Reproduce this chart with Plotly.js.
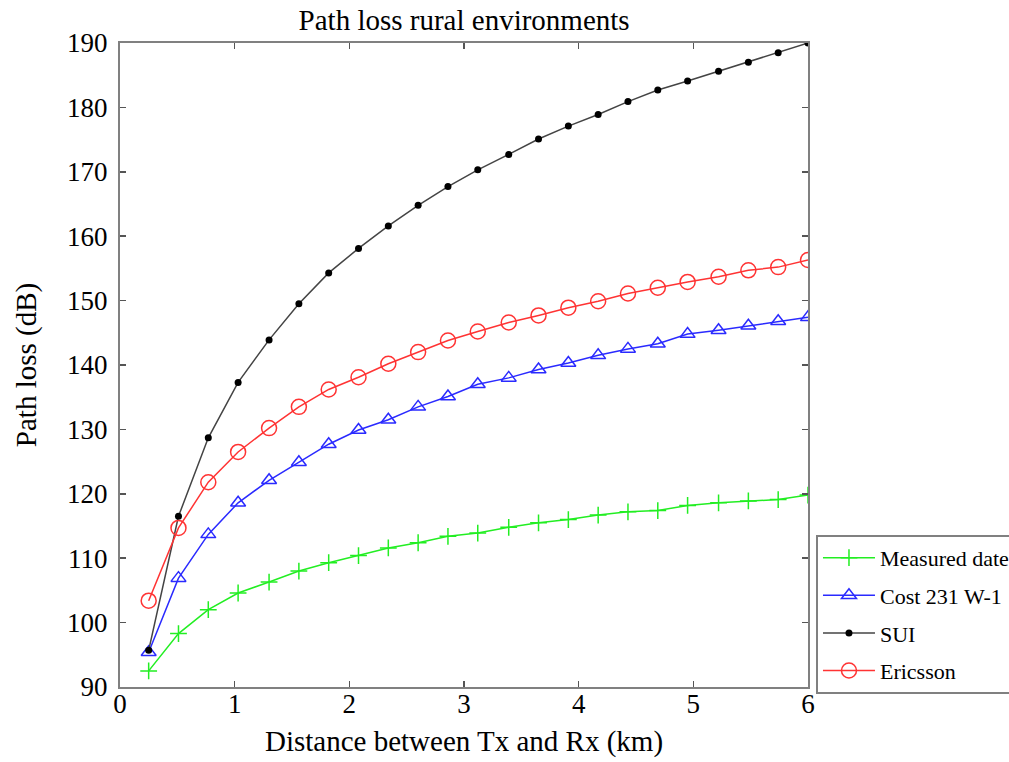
<!DOCTYPE html>
<html>
<head>
<meta charset="utf-8">
<script src="https://cdn.plot.ly/plotly-3.0.1.min.js"></script>
<style>html,body{margin:0;padding:0;background:#fff;overflow:hidden;}#chart{width:1009px;height:762px;}</style>
</head>
<body>
<div id="chart"></div>
<script>
const distanceKm = [0.25, 0.51, 0.77, 1.03, 1.30, 1.56, 1.82, 2.08, 2.34, 2.60, 2.86, 3.12, 3.39, 3.65, 3.91, 4.17, 4.43, 4.69, 4.95, 5.22, 5.48, 5.74, 6.00];
const measured = [92.5, 98.3, 102.0, 104.6, 106.3, 108.0, 109.3, 110.4, 111.6, 112.4, 113.4, 113.9, 114.8, 115.5, 116.0, 116.7, 117.2, 117.4, 118.2, 118.6, 118.9, 119.1, 119.8];
const cost231 = [95.4, 106.9, 113.7, 118.6, 122.1, 124.9, 127.7, 129.9, 131.5, 133.5, 135.1, 137.0, 138.0, 139.3, 140.3, 141.5, 142.5, 143.3, 144.8, 145.4, 146.1, 146.8, 147.4];
const sui = [95.7, 116.5, 128.7, 137.3, 143.9, 149.5, 154.3, 158.1, 161.6, 164.8, 167.7, 170.3, 172.7, 175.1, 177.1, 178.9, 180.9, 182.7, 184.1, 185.6, 187.0, 188.5, 190.0];
const ericsson = [103.4, 114.7, 121.8, 126.5, 130.2, 133.5, 136.2, 138.1, 140.2, 142.0, 143.8, 145.2, 146.6, 147.7, 148.9, 149.9, 151.1, 152.0, 152.9, 153.7, 154.7, 155.2, 156.3];
const seriesNames = ['Measured date', 'Cost 231 W-1', 'SUI', 'Ericsson'];
const xTicks = [0, 1, 2, 3, 4, 5, 6];
const yTicks = [90, 100, 110, 120, 130, 140, 150, 160, 170, 180, 190];

const serif = '"Liberation Serif", "Times New Roman", serif';

const traces = [
  {x: distanceKm, y: measured, name: seriesNames[0], legendgroup: 'g1', mode: 'lines+markers',
   line: {color: '#22ee22', width: 1.5},
   marker: {symbol: 'cross-thin-open', size: 12, line: {color: '#22ee22', width: 1.5}}},
  {x: distanceKm, y: cost231, name: seriesNames[1], legendgroup: 'g2', mode: 'lines+markers',
   line: {color: '#2a2aff', width: 1.5},
   marker: {symbol: 'triangle-up-open', size: 13, color: '#2a2aff', line: {color: '#2a2aff', width: 1.5}}},
  {x: distanceKm, y: sui, name: seriesNames[2], legendgroup: 'g3', mode: 'lines+markers',
   line: {color: '#444444', width: 1.5},
   marker: {symbol: 'circle', size: 7, color: '#000000'}},
  {x: distanceKm, y: ericsson, name: seriesNames[3], legendgroup: 'g4', mode: 'lines+markers',
   line: {color: '#ff3333', width: 1.5},
   marker: {symbol: 'circle-open', size: 15, color: '#ff3333', line: {color: '#ff3333', width: 1.5}}}
];

const axisCommon = {
  showgrid: false, zeroline: false, showline: true, mirror: 'ticks',
  linecolor: '#808080', linewidth: 2, ticks: 'inside', ticklen: 6, tickwidth: 1.5,
  tickcolor: '#555555', tickfont: {family: serif, size: 27, color: '#000'}, automargin: false
};

const layout = {
  width: 1009, height: 762,
  margin: {l: 120, r: 201, t: 43, b: 75},
  paper_bgcolor: '#ffffff', plot_bgcolor: '#ffffff',
  font: {family: serif},
  title: {text: 'Path loss rural environments', font: {family: serif, size: 29, color: '#000'},
          x: 0.46, xanchor: 'center', y: 0.974, yanchor: 'middle'},
  xaxis: Object.assign({}, axisCommon, {range: [0, 6], tickvals: xTicks, ticklabelstandoff: -8,
          title: {text: 'Distance between Tx and Rx (km)', font: {family: serif, size: 29, color: '#000'}, standoff: 12}}),
  yaxis: Object.assign({}, axisCommon, {range: [90, 190], tickvals: yTicks, ticklabelstandoff: 5,
          title: {text: 'Path loss (dB)', font: {family: serif, size: 29, color: '#000'}, standoff: 22}}),
  showlegend: true,
  legend: {xref: 'container', yref: 'container', x: 0.8087, y: 0.298, xanchor: 'left', yanchor: 'top',
           bgcolor: '#ffffff', bordercolor: '#808080', borderwidth: 2,
           font: {family: serif, size: 22, color: '#000'}, itemwidth: 52, tracegroupgap: 6}
};

Plotly.newPlot('chart', traces, layout, {displayModeBar: false, staticPlot: true});
</script>
</body>
</html>
